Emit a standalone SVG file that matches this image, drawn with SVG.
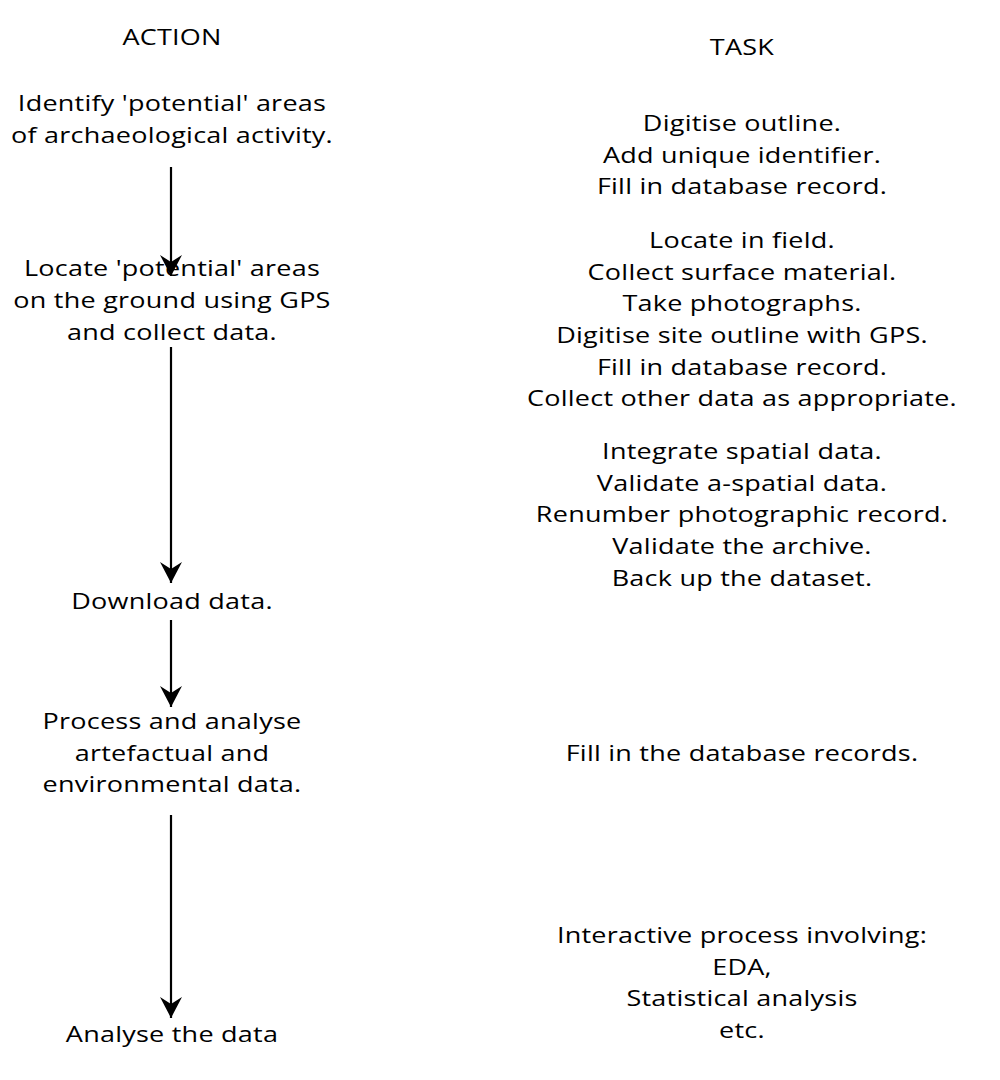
<svg xmlns="http://www.w3.org/2000/svg" width="1000" height="1080" viewBox="0 0 1000 1080">
  <style>
    text { font-family: "Open Sans", "Noto Sans", "Liberation Sans", sans-serif; font-size: 22.5px; letter-spacing: 0.2px; fill: #000; text-anchor: middle; }
    .conn { stroke: #000; stroke-width: 2.2; fill: none; marker-end: url(#arr); }
  </style>
  <defs>
    <marker id="arr" markerUnits="userSpaceOnUse" markerWidth="26" markerHeight="26" viewBox="-24 -13 26 26" refX="0" refY="0" orient="auto">
      <path d="M0,0 L-21,-11 L-14,0 L-21,11 Z" fill="#000"/>
    </marker>
  </defs>
  <rect width="1000" height="1080" fill="#fff"/>

  <g id="headers" transform="scale(1.2,1)">
    <text x="143.33" y="45">ACTION</text>
    <text x="618.33" y="55">TASK</text>
  </g>

  <g id="actions" transform="scale(1.2,1)">
    <g id="action1">
      <text x="143.33" y="111">Identify 'potential' areas</text>
      <text x="143.33" y="143">of archaeological activity.</text>
    </g>
    <g id="action2">
      <text x="143.33" y="276">Locate 'potential' areas</text>
      <text x="143.33" y="308">on the ground using GPS</text>
      <text x="143.33" y="340">and collect data.</text>
    </g>
    <g id="action3">
      <text x="143.33" y="609">Download data.</text>
    </g>
    <g id="action4">
      <text x="143.33" y="729">Process and analyse</text>
      <text x="143.33" y="761">artefactual and</text>
      <text x="143.33" y="792">environmental data.</text>
    </g>
    <g id="action5">
      <text x="143.33" y="1042">Analyse the data</text>
    </g>
  </g>

  <g id="tasks" transform="scale(1.2,1)">
    <g id="task1">
      <text x="618.33" y="131">Digitise outline.</text>
      <text x="618.33" y="163">Add unique identifier.</text>
      <text x="618.33" y="194">Fill in database record.</text>
    </g>
    <g id="task2">
      <text x="618.33" y="248">Locate in field.</text>
      <text x="618.33" y="280">Collect surface material.</text>
      <text x="618.33" y="311">Take photographs.</text>
      <text x="618.33" y="343">Digitise site outline with GPS.</text>
      <text x="618.33" y="375">Fill in database record.</text>
      <text x="618.33" y="406">Collect other data as appropriate.</text>
    </g>
    <g id="task3">
      <text x="618.33" y="459">Integrate spatial data.</text>
      <text x="618.33" y="491">Validate a-spatial data.</text>
      <text x="618.33" y="522">Renumber photographic record.</text>
      <text x="618.33" y="554">Validate the archive.</text>
      <text x="618.33" y="586">Back up the dataset.</text>
    </g>
    <g id="task4">
      <text x="618.33" y="761">Fill in the database records.</text>
    </g>
    <g id="task5">
      <text x="618.33" y="943">Interactive process involving:</text>
      <text x="618.33" y="975">EDA,</text>
      <text x="618.33" y="1006">Statistical analysis</text>
      <text x="618.33" y="1038">etc.</text>
    </g>
  </g>

  <g id="connectors">
    <line class="conn" x1="171" y1="167" x2="171" y2="276"/>
    <line class="conn" x1="171" y1="347" x2="171" y2="583"/>
    <line class="conn" x1="171" y1="620" x2="171" y2="707"/>
    <line class="conn" x1="171" y1="815" x2="171" y2="1018"/>
  </g>
</svg>
